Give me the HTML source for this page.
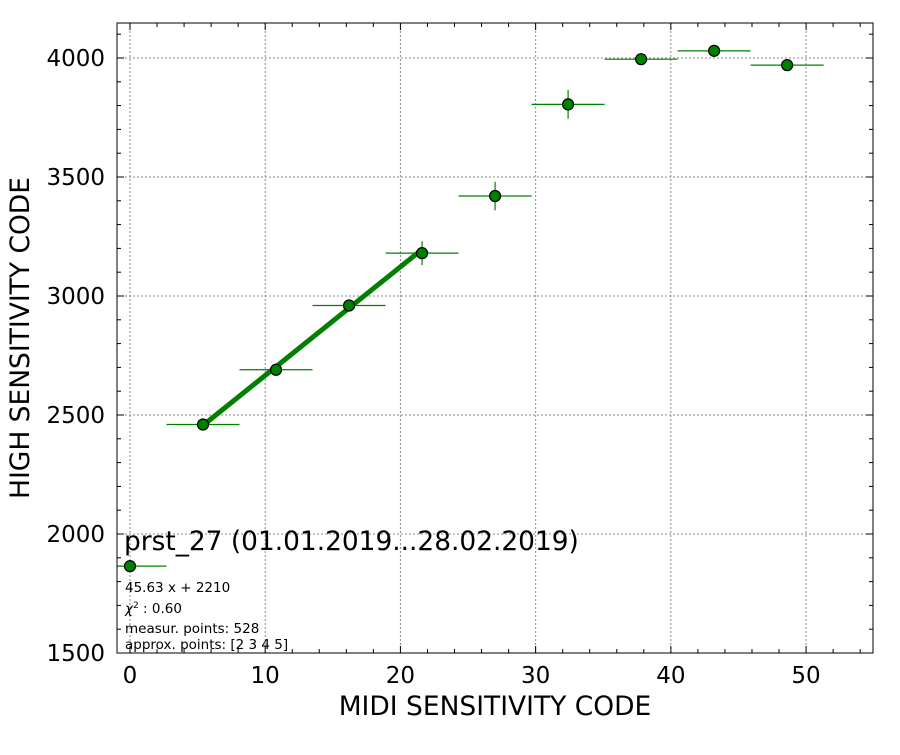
<!DOCTYPE html>
<html><head><meta charset="utf-8"><style>
body{margin:0;background:#fff;}
svg text{font-family:"DejaVu Sans","Liberation Sans",sans-serif;}
</style></head><body>
<svg width="900" height="750" xmlns="http://www.w3.org/2000/svg">
<g id="grid"></g>
<g id="ticks"></g>
<g id="marks"></g>
<rect x="117" y="23" width="756" height="630" fill="none" stroke="#000" stroke-width="1"/>
<text x="495" y="715" font-size="26.5" text-anchor="middle">MIDI SENSITIVITY CODE</text>
<text transform="translate(29,338) rotate(-90)" font-size="26.5" text-anchor="middle">HIGH SENSITIVITY CODE</text>
<g>
<text x="124" y="550" font-size="26.4">prst_27 (01.01.2019...28.02.2019)</text>
<text x="125" y="592" font-size="13.5">45.63 x + 2210</text>
<text x="125" y="613" font-size="13.5"><tspan font-style="italic">χ</tspan><tspan dy="-5" font-size="9">2</tspan><tspan dy="5"> : 0.60</tspan></text>
<text x="125" y="633" font-size="13.5">measur. points: 528</text>
<text x="125" y="649" font-size="13.5">approx. points: [2 3 4 5]</text>
</g>
</svg>
<script>
const xVals=[0,5.4,10.8,16.2,21.6,27,32.4,37.8,43.2,48.6];
const yVals=[1865,2460,2690,2960,3180,3420,3805,3995,4030,3970];
const yErr=[0,15,20,25,50,60,60,15,15,20];
const xErr=2.7;
const fitSlope=45.63, fitIntercept=2210, fitFrom=5.4, fitTo=21.6;
const xTicks=[0,10,20,30,40,50];
const yTicks=[1500,2000,2500,3000,3500,4000];
const X0=117,X1=873,Y0=653,Y1=23,xmin=-0.96,xmax=54.95,ymin=1500,ymax=4147;
const sx=v=>X0+(v-xmin)/(xmax-xmin)*(X1-X0);
const sy=v=>Y0-(v-ymin)/(ymax-ymin)*(Y0-Y1);
const NS="http://www.w3.org/2000/svg";
function mk(p,t,a){const e=document.createElementNS(NS,t);for(const k in a)e.setAttribute(k,a[k]);p.appendChild(e);return e;}
const grid=document.getElementById('grid'),ticks=document.getElementById('ticks'),marks=document.getElementById('marks');
xTicks.forEach(t=>{const x=sx(t);
 const g=mk(grid,'line',{x1:x,x2:x,y1:Y1,y2:Y0,stroke:'#888','stroke-dasharray':'2,2','stroke-width':1});
 
 mk(ticks,'line',{x1:x,x2:x,y1:Y0,y2:Y0-7,stroke:'#000'});mk(ticks,'line',{x1:x,x2:x,y1:Y1,y2:Y1+7,stroke:'#000'});
 const l=mk(ticks,'text',{x:x,y:683,'font-size':23,'text-anchor':'middle'});l.textContent=t;
 });
for(let m=0;m<=54;m+=2){if(m%10==0)continue;const x=sx(m);
 mk(ticks,'line',{x1:x,x2:x,y1:Y0,y2:Y0-4,stroke:'#000'});mk(ticks,'line',{x1:x,x2:x,y1:Y1,y2:Y1+4,stroke:'#000'});}
yTicks.forEach(t=>{const y=sy(t);
 if(t>ymin){const g=mk(grid,'line',{x1:X0,x2:X1,y1:y,y2:y,stroke:'#888','stroke-dasharray':'2,2','stroke-width':1});
 }
 mk(ticks,'line',{x1:X0,x2:X0+7,y1:y,y2:y,stroke:'#000'});mk(ticks,'line',{x1:X1,x2:X1-7,y1:y,y2:y,stroke:'#000'});
 const l=mk(ticks,'text',{x:105,y:y+8,'font-size':23,'text-anchor':'end'});l.textContent=t;
 });
for(let m=1500;m<=4100;m+=100){if(m%500==0)continue;const y=sy(m);
 mk(ticks,'line',{x1:X0,x2:X0+4,y1:y,y2:y,stroke:'#000'});mk(ticks,'line',{x1:X1,x2:X1-4,y1:y,y2:y,stroke:'#000'});}
const fit=mk(marks,'line',{x1:sx(fitFrom),y1:sy(fitSlope*fitFrom+fitIntercept),x2:sx(fitTo),y2:sy(fitSlope*fitTo+fitIntercept),stroke:'#007f00','stroke-width':5});

xVals.forEach((v,i)=>{const x=sx(v),y=sy(yVals[i]);
 const xa=Math.max(X0,sx(v-xErr));
 const e=mk(marks,'line',{x1:xa,x2:sx(v+xErr),y1:y,y2:y,stroke:'#008000','stroke-width':1.2});
 
 if(yErr[i]>0){const ey=mk(marks,'line',{x1:x,x2:x,y1:sy(yVals[i]-yErr[i]),y2:sy(yVals[i]+yErr[i]),stroke:'#008000','stroke-width':1.2});
 }
 const c=mk(marks,'circle',{cx:x,cy:y,r:5.5,fill:'#008000',stroke:'#000','stroke-width':1.2});
 });
</script>
</body></html>
